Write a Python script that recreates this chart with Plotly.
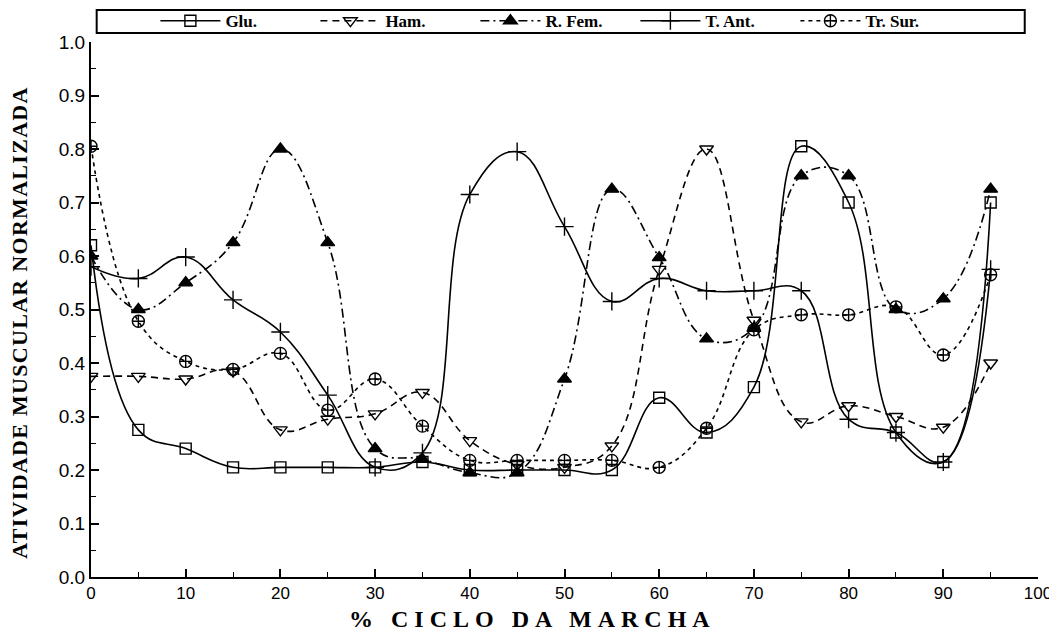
import plotly.graph_objects as go

x_pct = [0, 5, 10, 15, 20, 25, 30, 35, 40, 45, 50, 55, 60, 65, 70, 75, 80, 85, 90, 95]

glu = [0.62, 0.275, 0.24, 0.205, 0.205, 0.205, 0.205, 0.215, 0.20, 0.20, 0.20, 0.20,
       0.335, 0.27, 0.355, 0.805, 0.70, 0.27, 0.215, 0.70]
ham = [0.375, 0.375, 0.37, 0.385, 0.275, 0.295, 0.305, 0.345, 0.255, 0.21, 0.205, 0.245,
       0.575, 0.80, 0.48, 0.29, 0.32, 0.30, 0.28, 0.40]
rfem = [0.60, 0.50, 0.55, 0.625, 0.80, 0.625, 0.24, 0.22, 0.195, 0.195, 0.37, 0.725,
        0.597, 0.445, 0.465, 0.75, 0.75, 0.50, 0.52, 0.725]
tant = [0.58, 0.558, 0.598, 0.518, 0.458, 0.34, 0.205, 0.232, 0.715, 0.795, 0.655, 0.515,
        0.558, 0.535, 0.535, 0.535, 0.295, 0.27, 0.215, 0.575]
trsur = [0.805, 0.478, 0.403, 0.388, 0.418, 0.312, 0.37, 0.282, 0.218, 0.218, 0.218, 0.218,
         0.205, 0.278, 0.462, 0.49, 0.49, 0.505, 0.415, 0.565]

names = ["Glu.", "Ham.", "R. Fem.", "T. Ant.", "Tr. Sur."]
series = [glu, ham, rfem, tant, trsur]
symbols = ["square-open", "triangle-down-open", "triangle-up", "cross-thin-open", "circle-cross-open"]
dashes = ["solid", "7px,5px", "9px,4px,2px,4px", "solid", "4px,4px"]
msizes = [11, 12, 12, 13, 12]

x_title = "% CICLO DA MARCHA"
y_title = "ATIVIDADE MUSCULAR NORMALIZADA"

fig = go.Figure()
for name, ys, sym, dash, ms in zip(names, series, symbols, dashes, msizes):
    fig.add_trace(go.Scatter(
        x=x_pct, y=ys, name=name, mode="lines+markers",
        line=dict(color="black", width=1.6, dash=dash, shape="spline", smoothing=1.2),
        marker=dict(symbol=sym, size=ms, color="black",
                    line=dict(color="black", width=1.4)),
    ))

serif = "Liberation Serif"
sans = "Liberation Sans"

fig.update_layout(
    width=1049, height=630,
    paper_bgcolor="white", plot_bgcolor="white",
    margin=dict(l=83, r=19, t=34, b=61, autoexpand=False),
    showlegend=True,
    legend=dict(orientation="h", x=0.068, y=1.039, xanchor="left", yanchor="middle",
                font=dict(family=serif, size=17, color="black", weight="bold"),
                bgcolor="rgba(0,0,0,0)", borderwidth=0,
                entrywidth=85, entrywidthmode="pixels", itemwidth=60,
                tracegroupgap=0),
    xaxis=dict(range=[0, 100], tickmode="linear", tick0=0, dtick=10, automargin=False,
               ticks="inside", ticklen=8, tickwidth=1.5, tickcolor="black",
               minor=dict(ticks="inside", ticklen=5, dtick=5, tickcolor="black", tickwidth=1.2),
               showline=True, linecolor="black", linewidth=2, showgrid=False, zeroline=False,
               tickfont=dict(family=sans, size=17, color="black")),
    yaxis=dict(range=[0, 1.0], tickmode="linear", tick0=0, dtick=0.1, tickformat=".1f",
               automargin=False,
               ticks="inside", ticklen=8, tickwidth=1.5, tickcolor="black",
               minor=dict(ticks="inside", ticklen=5, dtick=0.05, tickcolor="black", tickwidth=1.2),
               showline=True, linecolor="black", linewidth=2, showgrid=False, zeroline=False,
               tickfont=dict(family=sans, size=19, color="black")),
    annotations=[
        dict(text='<span style="letter-spacing:6px">' + x_title + '</span>',
             xref="paper", yref="paper", x=0.466, y=-0.078, xanchor="center", yanchor="middle",
             showarrow=False, font=dict(family=serif, size=24, color="black", weight="bold")),
        dict(text='<span style="letter-spacing:1.3px">' + y_title + '</span>',
             xref="paper", yref="paper", x=-0.075, y=0.477, xanchor="center", yanchor="middle",
             textangle=-90,
             showarrow=False, font=dict(family=serif, size=22, color="black", weight="bold")),
    ],
    shapes=[dict(type="rect", xref="paper", yref="paper",
                 x0=0.006, x1=0.986, y0=1.017, y1=1.060,
                 line=dict(color="black", width=2), fillcolor="rgba(0,0,0,0)")],
)

fig.write_html("out.html")
